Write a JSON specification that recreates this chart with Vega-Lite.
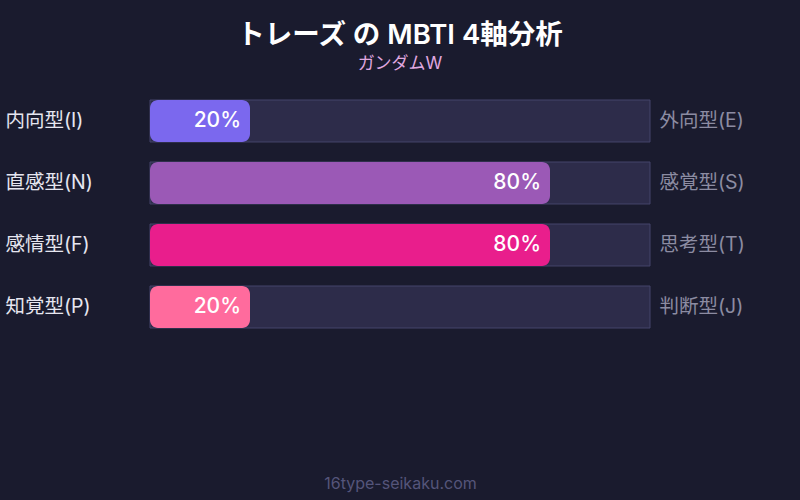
{
  "$schema": "https://vega.github.io/schema/vega-lite/v6.json",
  "width": 500,
  "height": 228,
  "autosize": {"type": "none"},
  "padding": {"left": 150, "top": 100, "right": 150, "bottom": 172},
  "background": "#1a1b2e",
  "config": {
    "font": "Inter, 'Noto Sans CJK JP'",
    "view": {"stroke": null}
  },
  "title": {
    "text": "トレーズ の MBTI 4軸分析",
    "subtitle": "ガンダムW",
    "anchor": "middle",
    "fontSize": 27.5,
    "fontWeight": 600,
    "color": "#ffffff",
    "subtitleFontSize": 17,
    "subtitleColor": "#e0a8e0",
    "subtitlePadding": 6,
    "offset": 28
  },
  "data": {
    "values": [
      {"left": "内向型(I)", "right": "外向型(E)", "value": 20, "pct": "20%", "full": 100, "color": "#7b68ee"},
      {"left": "直感型(N)", "right": "感覚型(S)", "value": 80, "pct": "80%", "full": 100, "color": "#9b59b6"},
      {"left": "感情型(F)", "right": "思考型(T)", "value": 80, "pct": "80%", "full": 100, "color": "#e91e8c"},
      {"left": "知覚型(P)", "right": "判断型(J)", "value": 20, "pct": "20%", "full": 100, "color": "#ff6b9d"}
    ]
  },
  "layer": [
    {
      "mark": {"type": "bar", "fill": "#2d2c4a", "stroke": "#44446a", "strokeWidth": 1},
      "encoding": {
        "x": {
          "field": "full",
          "type": "quantitative",
          "scale": {"domain": [0, 100]},
          "axis": {
            "title": "16type-seikaku.com",
            "titleColor": "#55557a",
            "titleFontSize": 16,
            "titleFontWeight": "normal",
            "titlePadding": 147,
            "labels": false,
            "ticks": false,
            "domain": false,
            "grid": false
          }
        },
        "y": {
          "field": "left",
          "type": "nominal",
          "sort": null,
          "scale": {"paddingInner": 0.3226, "paddingOuter": 0},
          "axis": {
            "orient": "left",
            "title": null,
            "ticks": false,
            "domain": false,
            "labelAlign": "left",
            "labelPadding": 145,
            "labelFontSize": 19.5,
            "labelColor": "#e6e6f0"
          }
        }
      }
    },
    {
      "mark": {"type": "bar", "cornerRadius": 8},
      "encoding": {
        "x": {"field": "value", "type": "quantitative"},
        "color": {"field": "color", "type": "nominal", "scale": null},
        "y": {
          "field": "left",
          "type": "nominal",
          "sort": null,
          "axis": {
            "orient": "right",
            "title": null,
            "ticks": false,
            "domain": false,
            "labelPadding": 9,
            "labelFontSize": 19.5,
            "labelColor": "#8c8ca2",
            "labelExpr": "datum.value == '内向型(I)' ? '外向型(E)' : datum.value == '直感型(N)' ? '感覚型(S)' : datum.value == '感情型(F)' ? '思考型(T)' : '判断型(J)'"
          }
        }
      }
    },
    {
      "mark": {"type": "text", "align": "right", "baseline": "middle", "dx": -9, "fontSize": 21, "fontWeight": 500, "color": "#ffffff"},
      "encoding": {
        "x": {"field": "value", "type": "quantitative"},
        "y": {"field": "left", "type": "nominal", "sort": null, "axis": null},
        "text": {"field": "pct", "type": "nominal"}
      }
    }
  ],
  "resolve": {"axis": {"y": "independent"}}
}
